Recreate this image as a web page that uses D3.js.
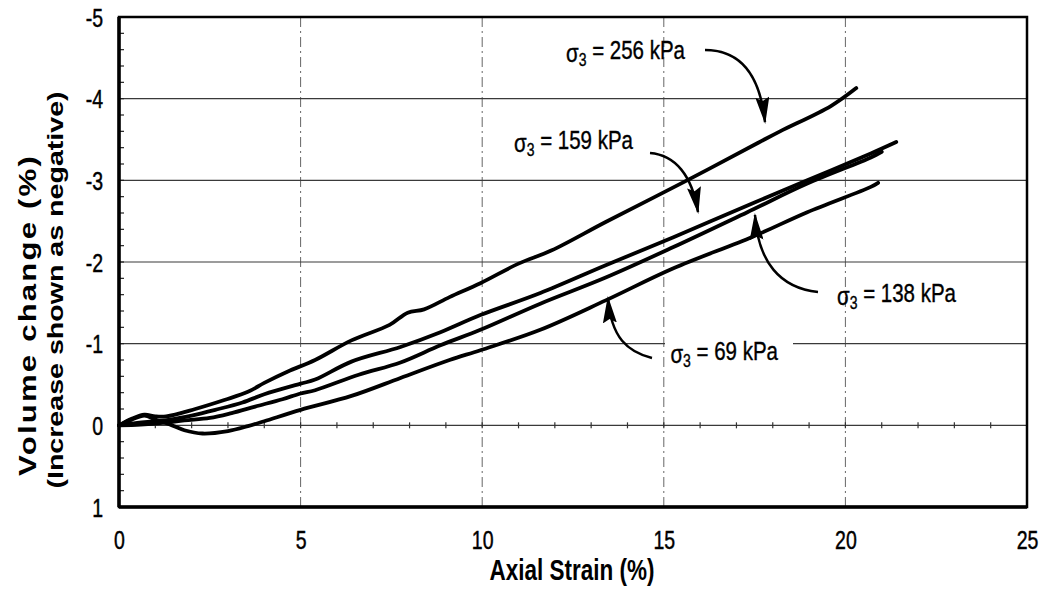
<!DOCTYPE html>
<html><head><meta charset="utf-8">
<script src="https://cdn.jsdelivr.net/npm/d3@7"></script>
<style>
body{margin:0;background:#fff}
svg{display:block}
text{font-family:"Liberation Sans",Arial,sans-serif;fill:#000}
</style>
</head><body>
<svg id="c" width="1045" height="597"></svg>
<script>
// ---- data ----
const xTicks = [0, 5, 10, 15, 20, 25];
const yTicks = [-5, -4, -3, -2, -1, 0, 1];
const xLabel = "Axial Strain (%)";
const yLabel1 = "Volume change (%)";
const yLabel2 = "(Increase shown as negative)";

const strain256 = [0, 0.35, 0.7, 1.0, 1.3, 2.1, 2.9, 3.55, 4.0, 4.65, 5.4, 6.4, 7.45, 7.95, 8.4, 9.1, 9.95, 11.0, 11.9, 13.4, 15.6, 17.6, 18.2, 19.6, 20.3];
const vol256    = [0, -0.08, -0.13, -0.11, -0.11, -0.20, -0.31, -0.41, -0.52, -0.66, -0.80, -1.04, -1.23, -1.38, -1.42, -1.57, -1.74, -1.98, -2.14, -2.49, -2.99, -3.46, -3.60, -3.91, -4.13];

const strain159 = [0, 0.5, 1.0, 1.4, 2.0, 2.65, 3.4, 4.0, 5.0, 5.4, 6.4, 7.75, 8.85, 9.95, 11.6, 13.4, 15.25, 17.45, 18.95, 20.7, 21.4];
const vol159    = [0, -0.03, -0.05, -0.07, -0.12, -0.19, -0.28, -0.38, -0.51, -0.56, -0.78, -0.96, -1.14, -1.35, -1.62, -1.96, -2.30, -2.72, -3.00, -3.33, -3.47];

const strain138 = [0, 0.6, 1.2, 1.8, 2.5, 3.1, 3.75, 4.5, 5.0, 5.4, 6.6, 7.75, 8.85, 9.95, 11.6, 13.4, 15.25, 17.3, 18.95, 20.7, 21.0];
const vol138    = [0, -0.01, -0.03, -0.06, -0.09, -0.15, -0.23, -0.32, -0.39, -0.43, -0.62, -0.77, -0.98, -1.17, -1.49, -1.81, -2.18, -2.61, -2.96, -3.28, -3.35];

const strain69  = [0, 0.35, 0.7, 1.0, 1.4, 1.8, 2.3, 3.0, 3.55, 4.0, 5.0, 6.4, 7.75, 9.1, 9.95, 11.6, 13.4, 15.25, 17.45, 18.95, 20.7, 20.9];
const vol69     = [0, -0.07, -0.12, -0.07, -0.01, 0.06, 0.10, 0.07, 0.01, -0.05, -0.19, -0.36, -0.58, -0.80, -0.92, -1.17, -1.53, -1.92, -2.31, -2.61, -2.92, -2.97];

const seriesLabels = ["256", "159", "138", "69"];

// ---- drawing ----
const svg = d3.select("#c");
const K = 1.3; // vertical glyph stretch of the original
const FONT = '"Liberation Sans",Arial,sans-serif';
svg.append("rect").attr("width",1045).attr("height",597).attr("fill","#fff");

const L = 119, R = 1027, T = 17, B = 507;
const x = d3.scaleLinear().domain([0, 25]).range([L, R]);
const y = d3.scaleLinear().domain([-5, 1]).range([T, B]);

// vertical dash-dot grid
svg.append("g").selectAll("line").data(xTicks.slice(1, -1)).join("line")
  .attr("x1", d => x(d)).attr("x2", d => x(d)).attr("y1", T).attr("y2", B)
  .attr("stroke", "#666").attr("stroke-width", 1).attr("stroke-dasharray", "10,4,2,4");
// horizontal grid
svg.append("g").selectAll("line").data(yTicks.slice(1, -1)).join("line")
  .attr("x1", L).attr("x2", R).attr("y1", d => y(d)).attr("y2", d => y(d))
  .attr("stroke", "#3a3a3a").attr("stroke-width", 1.2);

// minor ticks on x axis line at 0
svg.append("g").selectAll("line").data(d3.range(1, 25)).join("line")
  .attr("x1", d => x(d)).attr("x2", d => x(d)).attr("y1", y(0) - 3).attr("y2", y(0) + 3)
  .attr("stroke", "#333").attr("stroke-width", 1.2);
// minor ticks on left axis (every 0.2)
svg.append("g").selectAll("line").data(d3.range(-24, 5).map(d => d / 5))
  .join("line")
  .attr("x1", L).attr("x2", L + 5).attr("y1", d => y(d)).attr("y2", d => y(d))
  .attr("stroke", "#222").attr("stroke-width", 1.2);

// frame
svg.append("rect").attr("x", L).attr("y", T).attr("width", R - L).attr("height", B - T)
  .attr("fill", "none").attr("stroke", "#000").attr("stroke-width", 2.5);
svg.append("line").attr("x1", L).attr("x2", L).attr("y1", T).attr("y2", B)
  .attr("stroke", "#000").attr("stroke-width", 3.5);
svg.append("line").attr("x1", L).attr("x2", R).attr("y1", B).attr("y2", B)
  .attr("stroke", "#000").attr("stroke-width", 3.5);

// label background box for 69 kPa (hides grid line)
svg.append("rect").attr("x", 665).attr("y", 338).attr("width", 128).attr("height", 30).attr("fill", "#fff");

// series
const line = d3.line().x(d => x(d[0])).y(d => y(d[1])).curve(d3.curveCatmullRom.alpha(0.5));
const allSeries = [
  d3.zip(strain256, vol256),
  d3.zip(strain159, vol159),
  d3.zip(strain138, vol138),
  d3.zip(strain69, vol69)
];
svg.append("g").selectAll("path").data(allSeries).join("path")
  .attr("d", line).attr("fill", "none").attr("stroke", "#000")
  .attr("stroke-width", 3.8).attr("stroke-linejoin", "round").attr("stroke-linecap", "round");

// axes (labels only)
const yAxis = d3.axisLeft(y).tickValues(yTicks).tickSize(0).tickFormat(d => String(d));
const gy = svg.append("g").attr("transform", `translate(${L - 16},0)`).call(yAxis);
gy.select(".domain").remove();
gy.selectAll("text").attr("x", 0).attr("dy", "0.36em")
  .attr("transform", `scale(1,${K})`).attr("font-size", 19.5)
  .attr("font-family", FONT).attr("fill", "#000")
  .attr("stroke", "#000").attr("stroke-width", 0.35);

const xAxis = d3.axisBottom(x).tickValues(xTicks).tickSize(0).tickFormat(d => String(d));
const gx = svg.append("g").attr("transform", `translate(0,540)`).call(xAxis);
gx.select(".domain").remove();
gx.selectAll("text").attr("y", 0).attr("dy", "0.36em")
  .attr("transform", `scale(1,${K})`).attr("font-size", 19.5)
  .attr("font-family", FONT).attr("fill", "#000")
  .attr("stroke", "#000").attr("stroke-width", 0.35);

// axis titles
svg.append("text").attr("transform", `translate(572,580) scale(1,${K})`)
  .attr("text-anchor", "middle").attr("font-size", 22.5).attr("font-weight", "bold").text(xLabel);
svg.append("text").attr("transform", `translate(36,316) scale(1,${K}) rotate(-90)`)
  .attr("text-anchor", "middle").attr("font-size", 24).attr("font-weight", "bold")
  .attr("textLength", 246).attr("lengthAdjust", "spacing").text(yLabel1);
svg.append("text").attr("transform", `translate(63,290) scale(1,${K}) rotate(-90)`)
  .attr("text-anchor", "middle").attr("font-size", 22).attr("font-weight", "bold").text(yLabel2);

// arrow marker
svg.append("defs").append("marker").attr("id", "ah")
  .attr("viewBox", "0 0 27 14").attr("refX", 25).attr("refY", 7)
  .attr("markerWidth", 27).attr("markerHeight", 14).attr("markerUnits", "userSpaceOnUse")
  .attr("orient", "auto")
  .append("path").attr("d", "M0,0 L27,7 L0,14 L4,7 Z").attr("fill", "#000");

// annotations: label text positions (right end) and arrow paths
const notes = [
  {lab: seriesLabels[0], tx: 685, ty: 52, arrow: "M705,50 C740,50 760,75 765,122"},
  {lab: seriesLabels[1], tx: 633, ty: 142, arrow: "M650,153 C675,155 692,175 698,212"},
  {lab: seriesLabels[2], tx: 956, ty: 295, arrow: "M818,292 C780,288 758,262 755,215"},
  {lab: seriesLabels[3], tx: 778, ty: 353, arrow: "M652,358 C628,352 611,338 608,298"}
];
notes.forEach(n => {
  svg.append("path").attr("d", n.arrow).attr("fill", "none").attr("stroke", "#000")
    .attr("stroke-width", 2.5).attr("marker-end", "url(#ah)");
  const t = svg.append("text").attr("transform", `translate(${n.tx},${n.ty}) scale(1,${K})`)
    .attr("font-size", 20.5).attr("dy", "0.36em").attr("text-anchor", "end")
    .attr("stroke", "#000").attr("stroke-width", 0.3);
  t.append("tspan").text("σ");
  t.append("tspan").attr("font-size", 14).attr("dy", "0.25em").text("3");
  t.append("tspan").attr("dy", "-0.25em").text(" = " + n.lab + " kPa");
});
</script>
</body></html>
